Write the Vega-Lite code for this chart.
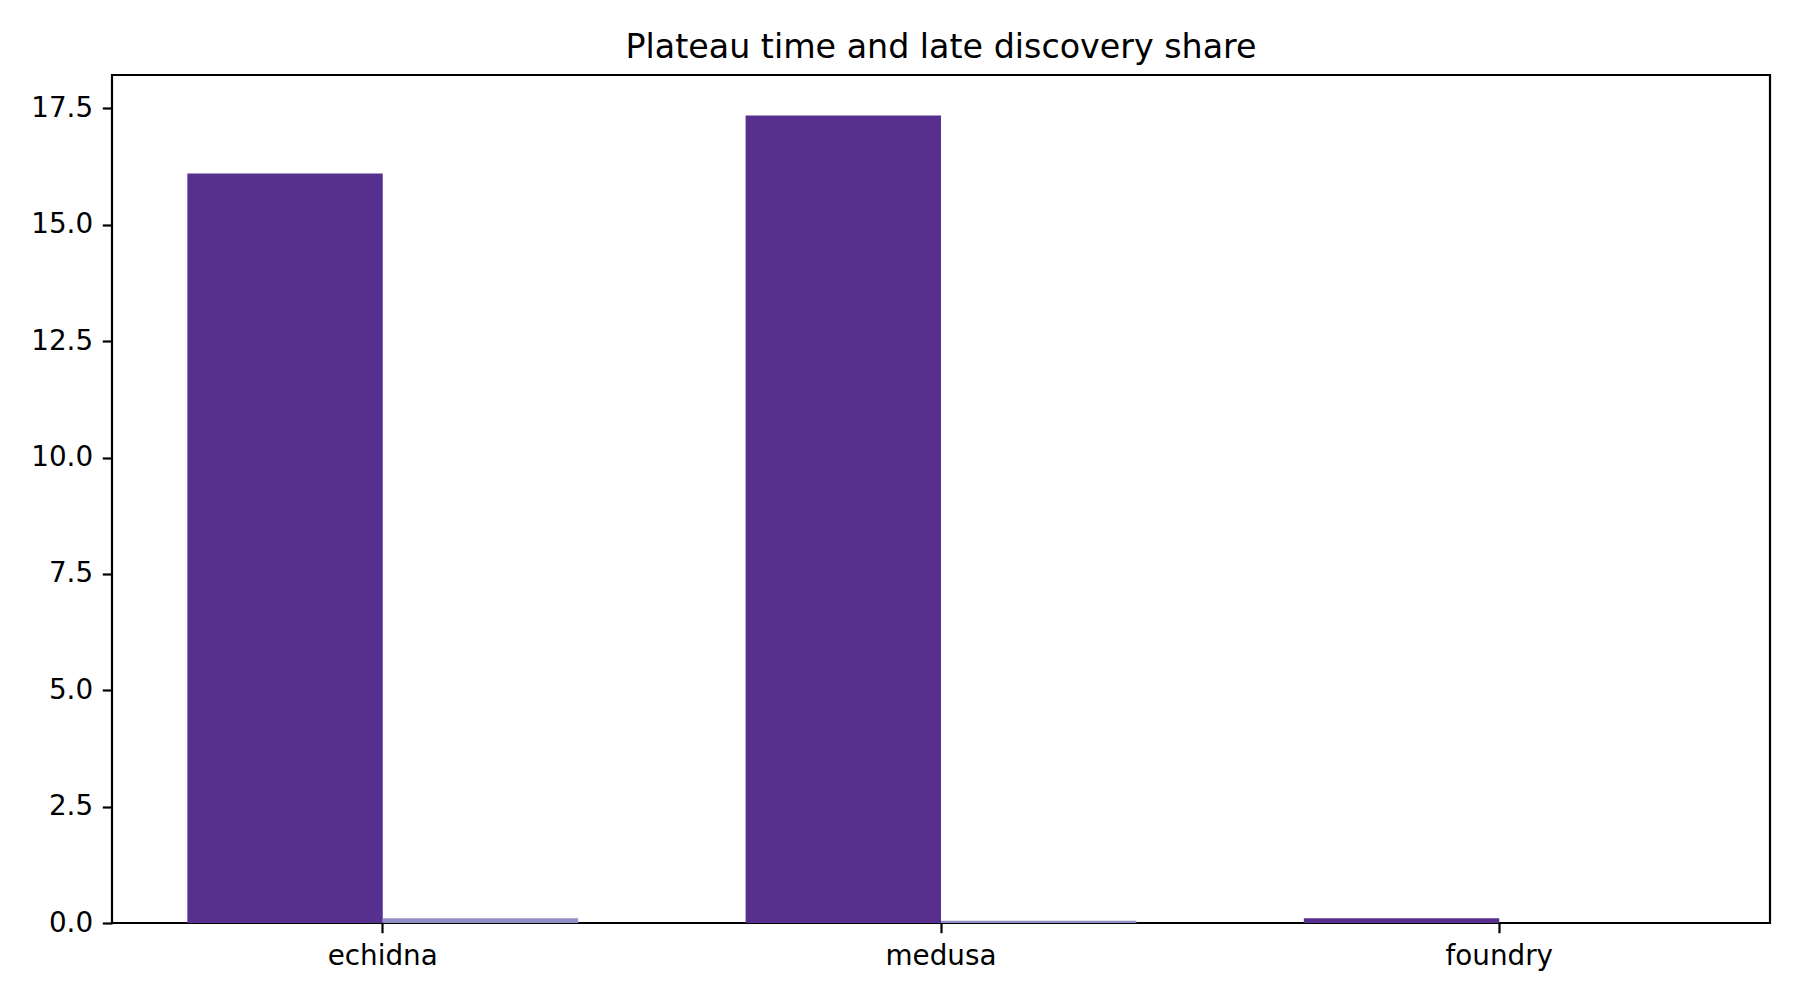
{
  "$schema": "https://vega.github.io/schema/vega-lite/v6.json",
  "autosize": "none",
  "width": 1658,
  "height": 848,
  "padding": {"left": 112, "top": 75, "right": 30, "bottom": 77},
  "background": "white",
  "title": {"text": "Plateau time and late discovery share", "font": "DejaVu Sans", "fontSize": 33.3, "fontWeight": "normal", "color": "black", "offset": 10},
  "data": {"values": [
    {"repo": "echidna", "series": "plateau time", "value": 16.1},
    {"repo": "echidna", "series": "late discovery share", "value": 0.1},
    {"repo": "medusa", "series": "plateau time", "value": 17.35},
    {"repo": "medusa", "series": "late discovery share", "value": 0.05},
    {"repo": "foundry", "series": "plateau time", "value": 0.1},
    {"repo": "foundry", "series": "late discovery share", "value": 0.0}
  ]},
  "mark": {"type": "bar"},
  "encoding": {
    "x": {"field": "repo", "type": "nominal", "sort": ["echidna", "medusa", "foundry"],
      "scale": {"paddingInner": 0.3, "paddingOuter": 0.135},
      "axis": {"title": null, "labelAngle": 0, "domain": false, "ticks": true, "tickColor": "black", "tickWidth": 2.2, "tickSize": 9.7, "labelPadding": 9.7, "labelFont": "DejaVu Sans", "labelFontSize": 27.8, "labelColor": "black", "grid": false}},
    "xOffset": {"field": "series", "type": "nominal", "sort": ["plateau time", "late discovery share"], "scale": {"paddingInner": 0, "paddingOuter": 0}},
    "y": {"field": "value", "type": "quantitative",
      "scale": {"domain": [0, 18.2175], "nice": false, "zero": true},
      "axis": {"title": null, "values": [0, 2.5, 5, 7.5, 10, 12.5, 15, 17.5], "format": ".1f", "domain": false, "tickColor": "black", "tickWidth": 2.2, "tickSize": 9.7, "labelPadding": 9.7, "labelFont": "DejaVu Sans", "labelFontSize": 27.8, "labelColor": "black", "grid": false}},
    "color": {"field": "series", "type": "nominal", "sort": ["plateau time", "late discovery share"],
      "scale": {"domain": ["plateau time", "late discovery share"], "range": ["#57308f", "#928ec6"]},
      "legend": null}
  },
  "config": {"view": {"stroke": "black", "strokeWidth": 2.2, "fill": "white"}}
}
